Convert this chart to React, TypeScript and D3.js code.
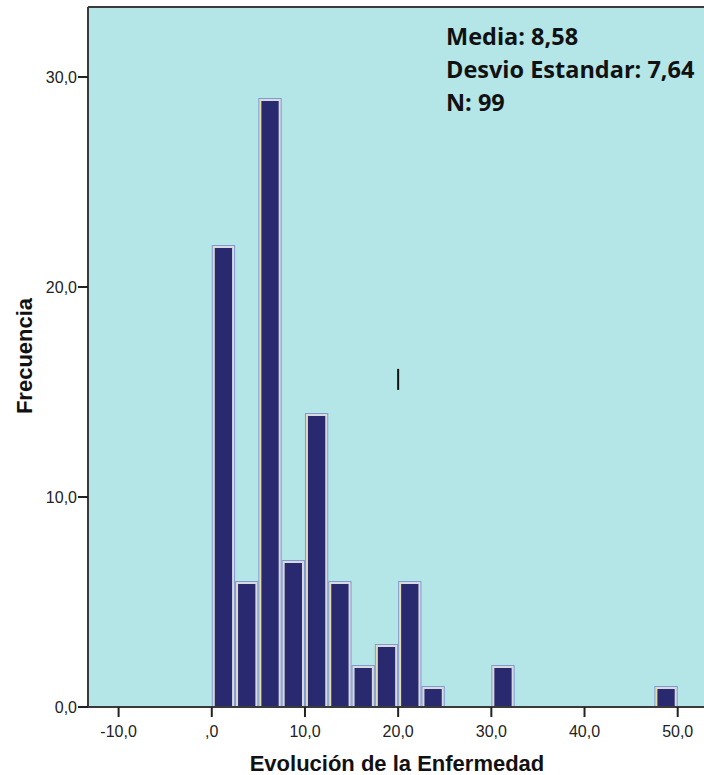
import React from "react";
import * as d3 from "d3";

const binStarts = [0, 2.5, 5, 7.5, 10, 12.5, 15, 17.5, 20, 22.5, 30, 47.5];
const counts = [22, 6, 29, 7, 14, 6, 2, 3, 6, 1, 2, 1];
const binWidth = 2.5;
const xTicks = [-10, 0, 10, 20, 30, 40, 50];
const xTickLabels = ["-10,0", ",0", "10,0", "20,0", "30,0", "40,0", "50,0"];
const yTicks = [0, 10, 20, 30];
const yTickLabels = ["0,0", "10,0", "20,0", "30,0"];
const statsLines = ["Media: 8,58", "Desvio Estandar: 7,64", "N: 99"];
const cursorMark = { x: 20, y0: 15.1, y1: 16.1 };
const xTitle = "Evolución de la Enfermedad";
const yTitle = "Frecuencia";

const W = 704;
const H = 775;

export default function App() {
  const x = d3.scaleLinear().domain([-10, 50]).range([118.6, 677.7]);
  const y = d3.scaleLinear().domain([0, 30]).range([707, 77]);
  const plotLeft = 88;
  const plotTop = 7;
  const plotRight = 720;
  const plotBottom = y(0);

  const bars = binStarts.map((s, i) => ({ x0: s, x1: s + binWidth, c: counts[i] }));

  return (
    <div style={{ position: "fixed", left: 0, top: 0 }}>
      <svg width={W} height={H} style={{ display: "block", background: "#fff" }}>
        <defs>
          <clipPath id="plotclip">
            <rect x={plotLeft} y={plotTop} width={plotRight - plotLeft} height={plotBottom - plotTop} />
          </clipPath>
        </defs>
        <rect x={plotLeft} y={plotTop} width={plotRight - plotLeft} height={plotBottom - plotTop} fill="#b4e5e7" />
        <g clipPath="url(#plotclip)">
          {bars.map((b, i) => {
            const bx = x(b.x0);
            const bw = x(b.x1) - x(b.x0);
            const by = y(b.c);
            const bh = y(0) - y(b.c);
            return (
              <g key={i}>
                <rect x={bx} y={by} width={bw} height={bh + 2} fill="#7f9bd4" />
                <rect x={bx + 1} y={by + 1} width={bw - 2} height={bh + 2} fill="#d9d9df" />
                <rect x={bx + 1.5} y={by + 1.5} width={1} height={bh} fill="#e8dca0" />
                <rect x={bx + 3} y={by + 3} width={bw - 6} height={bh} fill="#29296f" />
              </g>
            );
          })}
        </g>
        {/* frame */}
        <line x1={plotLeft} x2={plotRight} y1={plotTop} y2={plotTop} stroke="#3a3a3a" strokeWidth={2} />
        <line x1={plotLeft} x2={plotLeft} y1={plotTop} y2={plotBottom} stroke="#3a3a3a" strokeWidth={2} />
        <line x1={plotLeft} x2={plotRight} y1={plotBottom} y2={plotBottom} stroke="#3a3a3a" strokeWidth={2} />
        {/* y ticks */}
        {yTicks.map((t, i) => (
          <g key={t}>
            <line x1={plotLeft - 10} x2={plotLeft} y1={y(t)} y2={y(t)} stroke="#222" strokeWidth={2} />
            <text x={plotLeft - 11} y={y(t)} dy="0.36em" textAnchor="end" fontFamily="Liberation Sans, Arial, sans-serif" fontSize={16} fill="#222">
              {yTickLabels[i]}
            </text>
          </g>
        ))}
        {/* x ticks */}
        {xTicks.map((t, i) => (
          <g key={t}>
            <line x1={x(t)} x2={x(t)} y1={plotBottom} y2={plotBottom + 10} stroke="#222" strokeWidth={2} />
            <text x={x(t)} y={plotBottom + 30} textAnchor="middle" fontFamily="Liberation Sans, Arial, sans-serif" fontSize={16} fill="#222">
              {xTickLabels[i]}
            </text>
          </g>
        ))}
        {/* cursor mark */}
        <line x1={x(cursorMark.x)} x2={x(cursorMark.x)} y1={y(cursorMark.y0)} y2={y(cursorMark.y1)} stroke="#111" strokeWidth={2} />
        {/* stats */}
        {statsLines.map((s, i) => (
          <text key={i} x={446} y={45 + i * 33} fontFamily="'Open Sans', Lato, sans-serif" fontWeight="bold" fontSize={23.5} fill="#111">
            {s}
          </text>
        ))}
        {/* titles */}
        <text x={397} y={771} textAnchor="middle" fontFamily="Liberation Sans, Arial, sans-serif" fontWeight="bold" fontSize={22} fill="#111">
          {xTitle}
        </text>
        <text transform={`translate(32, ${356}) rotate(-90)`} textAnchor="middle" fontFamily="Liberation Sans, Arial, sans-serif" fontWeight="bold" fontSize={22} fill="#111">
          {yTitle}
        </text>
      </svg>
    </div>
  );
}
